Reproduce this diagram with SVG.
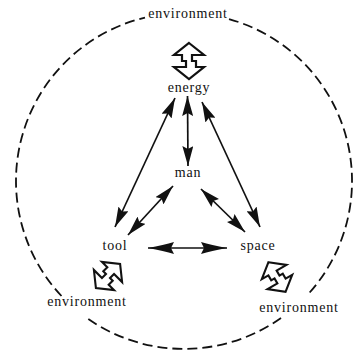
<svg xmlns="http://www.w3.org/2000/svg" width="355" height="351" viewBox="0 0 355 351">
  <style>
    .lbl { font-family: "Liberation Serif", "Times New Roman", serif; font-size: 14px; letter-spacing: 0.8px; fill: #111; text-anchor: middle; }
    .env { fill: none; stroke: #111; stroke-width: 1.8; stroke-dasharray: 10 5; }
    .conn { stroke: #111; stroke-width: 1.7; fill: none; }
    .icon { fill: #fff; stroke: #111; stroke-width: 2.2; stroke-linejoin: miter; }
  </style>
  <defs>
    <marker id="ah" viewBox="0 0 20 11" refX="20" refY="5.5" markerWidth="20" markerHeight="11" markerUnits="userSpaceOnUse" orient="auto-start-reverse">
      <path d="M0,0 L20,5.5 L0,11 L3,5.5 Z" fill="#111"/>
    </marker>
    <marker id="ahw" viewBox="0 0 26 12" refX="26" refY="6" markerWidth="26" markerHeight="12" markerUnits="userSpaceOnUse" orient="auto-start-reverse">
      <path d="M0,0 Q10,3 26,6 Q10,9 0,12 L3,6 Z" fill="#111"/>
    </marker>
    <polygon id="dbl" points="0,-18 15,-6 3,-6 3,0 7,0 7,6 15,6 0,18 -15,6 -3,6 -3,0 -7,0 -7,-6 -15,-6"/>
  </defs>
  <rect width="355" height="351" fill="#fff"/>

  <g id="environment-boundary">
    <path class="env" d="M229,19.1 A168,168 0 0 1 307.4,295"/>
    <path class="env" d="M281,318 A168,168 0 0 1 86.8,318"/>
    <path class="env" d="M61.5,296 A168,168 0 0 1 145,17.6"/>
    <text class="lbl" x="188" y="18">environment</text>
  </g>

  <g id="connectors">
    <line class="conn" x1="175" y1="98" x2="115" y2="227" marker-start="url(#ah)" marker-end="url(#ah)"/>
    <line class="conn" x1="187.5" y1="96" x2="188" y2="166" marker-start="url(#ah)" marker-end="url(#ah)"/>
    <line class="conn" x1="202" y1="102" x2="260" y2="227" marker-start="url(#ah)" marker-end="url(#ah)"/>
    <line class="conn" x1="173" y1="186" x2="128" y2="235" marker-start="url(#ah)" marker-end="url(#ah)"/>
    <line class="conn" x1="201" y1="189" x2="245" y2="232" marker-start="url(#ah)" marker-end="url(#ah)"/>
    <line class="conn" x1="148" y1="248" x2="227" y2="248" marker-start="url(#ahw)" marker-end="url(#ahw)"/>
  </g>

  <g id="energy">
    <use href="#dbl" class="icon" transform="translate(189,61)"/>
    <text class="lbl" x="189" y="92">energy</text>
  </g>

  <g id="man">
    <text class="lbl" x="188" y="177">man</text>
  </g>

  <g id="tool">
    <text class="lbl" x="115" y="250">tool</text>
    <use href="#dbl" class="icon" transform="translate(108,276) rotate(45) scale(0.95)"/>
    <text class="lbl" x="87" y="306">environment</text>
  </g>

  <g id="space">
    <text class="lbl" x="258" y="250">space</text>
    <use href="#dbl" class="icon" transform="translate(277,277) rotate(-30) scale(0.95)"/>
    <text class="lbl" x="299" y="312">environment</text>
  </g>
</svg>
